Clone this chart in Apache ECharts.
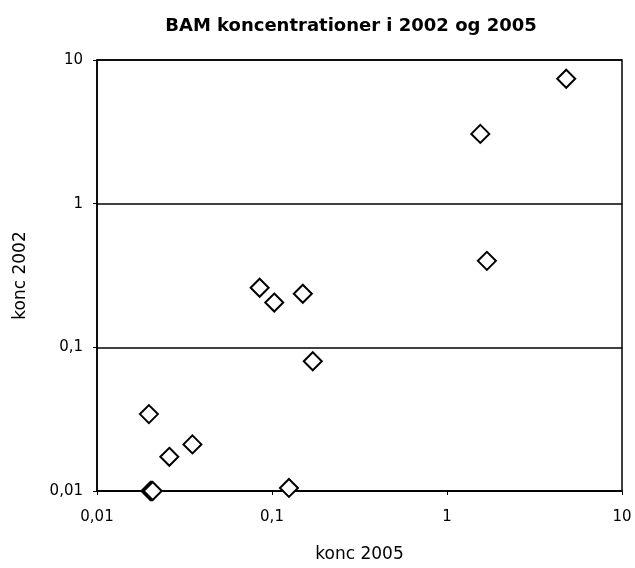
<!DOCTYPE html>
<html>
<head>
<meta charset="utf-8">
<script src="https://cdn.jsdelivr.net/npm/echarts@6/dist/echarts.min.js"></script>
<style>
  html, body { margin: 0; padding: 0; background: #fff; }
  #chart { width: 635px; height: 568px; }
</style>
</head>
<body>
<div id="chart"></div>
<script>
// konc 2005 (x) og konc 2002 (y)
const konc2005 = [4.8, 1.55, 1.69, 0.085, 0.103, 0.15, 0.171, 0.0198, 0.0259, 0.0351, 0.0202, 0.0205, 0.0208, 0.125];
const konc2002 = [7.4, 3.06, 0.40, 0.26, 0.205, 0.236, 0.080, 0.0343, 0.0173, 0.0211, 0.01, 0.01, 0.01, 0.0105];

const points = konc2005.map((x, i) => [x, konc2002[i]]);
const fmt = (v) => String(v).replace(".", ",");
const font = "DejaVu Sans";

const chart = echarts.init(document.getElementById("chart"));
chart.setOption({
  animation: false,
  backgroundColor: "#fff",
  title: {
    text: "BAM koncentrationer i 2002 og 2005",
    left: 346,
    top: 12,
    textAlign: "center",
    textStyle: { fontFamily: font, fontSize: 18, fontWeight: "bold", color: "#000" },
  },
  grid: {
    left: 97,
    right: 13,
    top: 60,
    bottom: 76,
    show: true,
    borderColor: "#000",
    borderWidth: 1.5,
  },
  xAxis: {
    type: "log",
    logBase: 10,
    min: 0.01,
    max: 10,
    name: "konc 2005",
    nameLocation: "middle",
    nameGap: 55,
    nameTextStyle: { fontFamily: font, fontSize: 17, color: "#000" },
    axisLine: { lineStyle: { color: "#000", width: 1.5 } },
    axisTick: { show: true, length: 4, lineStyle: { color: "#000" } },
    axisLabel: { formatter: fmt, color: "#000", fontFamily: font, fontSize: 15, margin: 19 },
    splitLine: { show: false },
    minorTick: { show: false },
  },
  yAxis: {
    type: "log",
    logBase: 10,
    min: 0.01,
    max: 10,
    name: "konc 2002",
    nameLocation: "middle",
    nameGap: 68,
    nameRotate: 90,
    nameTextStyle: { fontFamily: font, fontSize: 17, color: "#000" },
    axisLine: { lineStyle: { color: "#000", width: 1.5 } },
    axisTick: { show: true, length: 4, lineStyle: { color: "#000" } },
    axisLabel: { formatter: fmt, color: "#000", fontFamily: font, fontSize: 15, margin: 14 },
    splitLine: { show: true, lineStyle: { color: "#000", width: 1.5 } },
  },
  series: [
    {
      type: "scatter",
      data: points,
      symbol: "diamond",
      symbolSize: 18,
      itemStyle: { color: "#fff", borderColor: "#000", borderWidth: 2, opacity: 1 },
    },
  ],
});
</script>
</body>
</html>
